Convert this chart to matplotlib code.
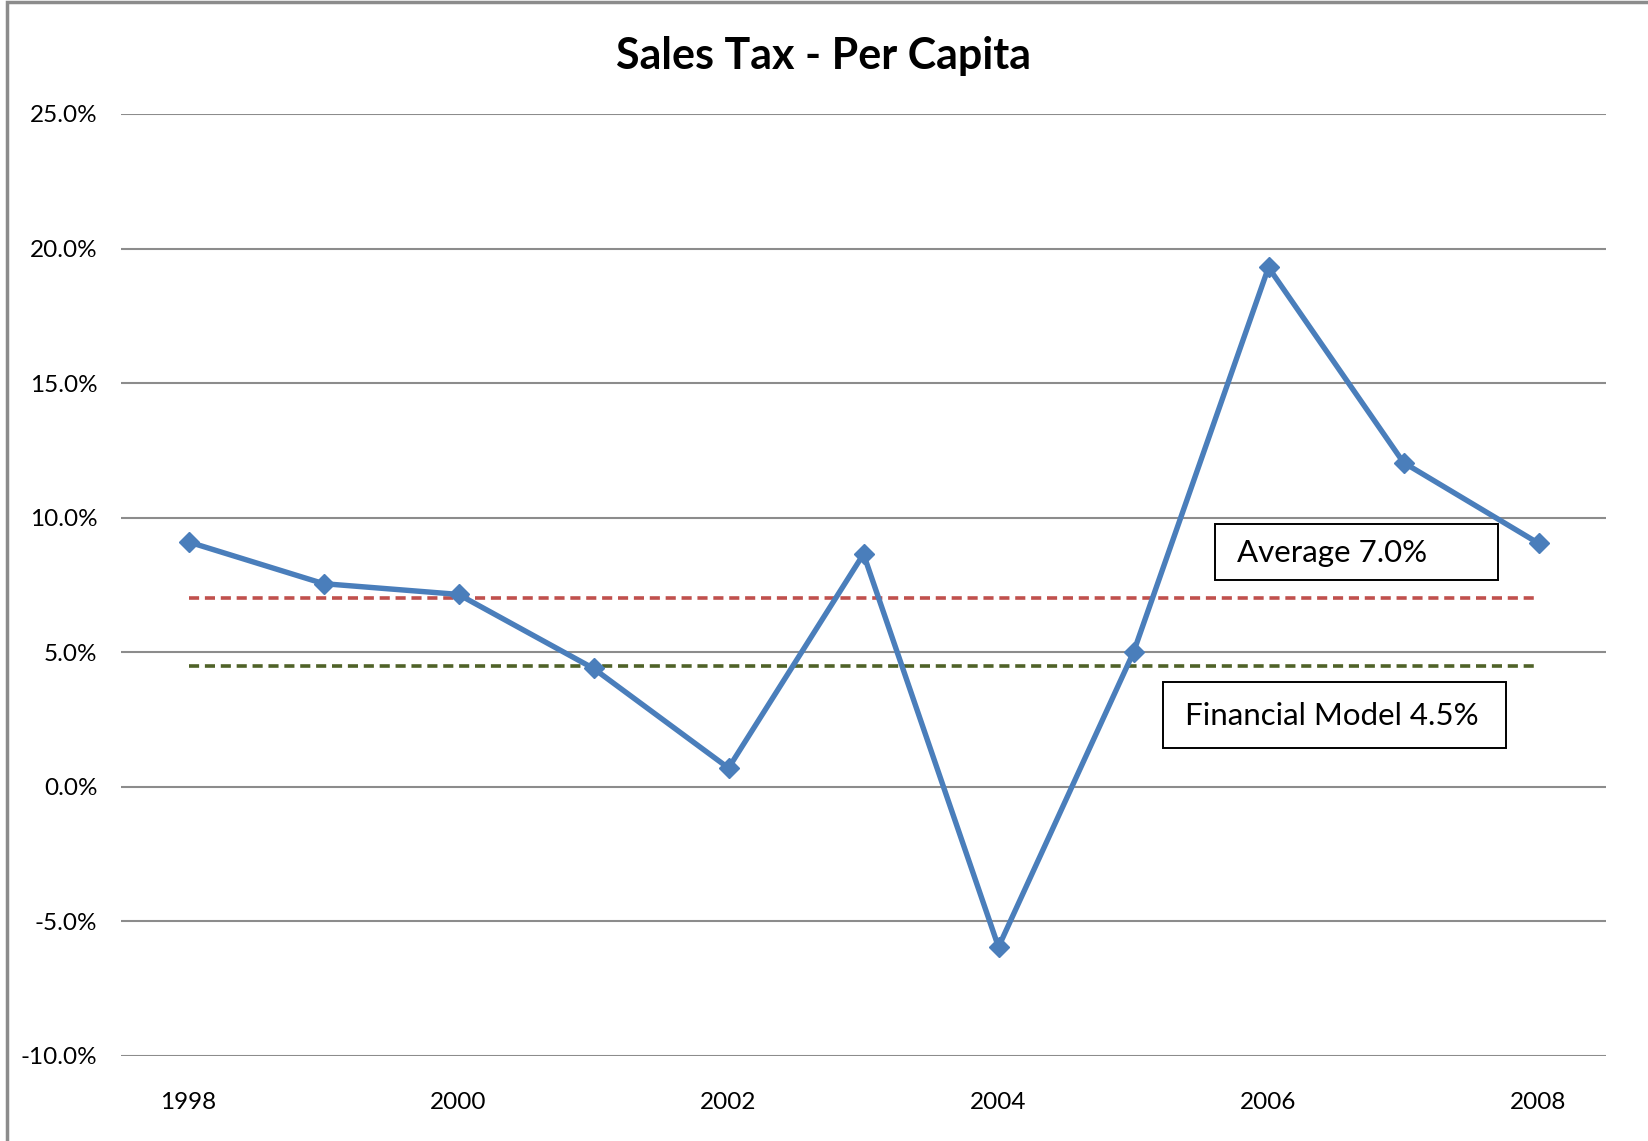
import matplotlib.pyplot as plt
from matplotlib.patches import Rectangle
from matplotlib.ticker import FuncFormatter

plt.rcParams['font.family'] = ['Lato', 'DejaVu Sans']

# data
years = [1998, 1999, 2000, 2001, 2002, 2003, 2004, 2005, 2006, 2007, 2008]
per_capita = [9.1, 7.55, 7.15, 4.4, 0.7, 8.65, -5.95, 5.0, 19.3, 12.05, 9.05]
average = 7.0
financial_model = 4.5
y_ticks = [-10, -5, 0, 5, 10, 15, 20, 25]
x_ticks = [1998, 2000, 2002, 2004, 2006, 2008]

fig = plt.figure(figsize=(16.48, 11.41), dpi=100)
ax = fig.add_axes([121 / 1648, 1 - 1056 / 1141, 1485 / 1648, 942 / 1141])

# chart frame
fig.patches.append(Rectangle((0.0045, -0.01), 1.1, 1.008, transform=fig.transFigure,
                             fill=False, edgecolor='#8c8c8c', linewidth=2.5))

ax.plot(years, [average] * len(years), color='#C0504D', linestyle=(0, (2.8, 1.6)), linewidth=2.6, zorder=2)
ax.plot(years, [financial_model] * len(years), color='#4F6228', linestyle=(0, (2.8, 1.6)), linewidth=2.6, zorder=2)
ax.plot(years, per_capita, color='#4A7EBB', linewidth=3.9, marker='D', markersize=10, zorder=3)

ax.set_xlim(1997.5, 2008.5)
ax.set_ylim(-10, 25)
ax.set_yticks(y_ticks)
ax.set_xticks(x_ticks)
ax.yaxis.set_major_formatter(FuncFormatter(lambda v, p: '%.1f%%' % v))
ax.grid(axis='y', color='#8c8c8c', linewidth=1.5)
ax.set_axisbelow(True)
for s in ax.spines.values():
    s.set_visible(False)
ax.tick_params(length=0, labelsize=17.5)
ax.tick_params(axis='y', pad=17)
ax.tick_params(axis='x', pad=26)

fig.text(0.5, 1 - 56 / 1141, 'Sales Tax - Per Capita', ha='center', va='center',
         fontsize=31, fontweight='bold')

# annotation boxes
ax.add_patch(Rectangle((2005.60, 7.70), 2.10, 2.08, facecolor='white',
                       edgecolor='black', linewidth=1.4, zorder=4))
ax.text(2005.77, 8.70, 'Average 7.0%', ha='left', va='center', fontsize=22.5, zorder=5)
ax.add_patch(Rectangle((2005.22, 1.45), 2.54, 2.45, facecolor='white',
                       edgecolor='black', linewidth=1.4, zorder=4))
ax.text(2005.38, 2.65, 'Financial Model 4.5%', ha='left', va='center', fontsize=22.5, zorder=5)

fig.savefig('out.png', dpi=100)
